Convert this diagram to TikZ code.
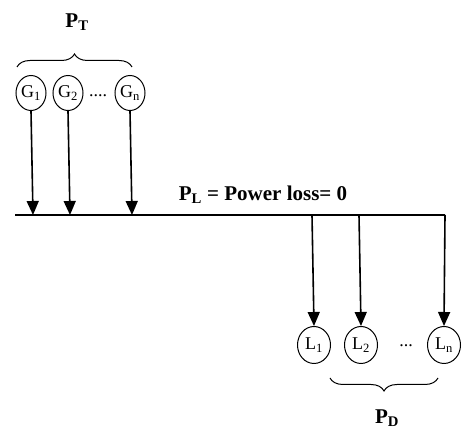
\documentclass[tikz,border=0pt]{standalone}
\usepackage{fontspec}
\setmainfont{Liberation Serif}
\usetikzlibrary{shapes.geometric,arrows.meta,decorations.pathreplacing}
\begin{document}
\begin{tikzpicture}[x=1pt,y=1pt,
  src/.style={draw,ellipse,line width=1pt,minimum width=30pt,minimum height=35pt,inner sep=0pt,font=\fontsize{18}{18}\selectfont},
  ld/.style={draw,ellipse,line width=1pt,minimum width=33pt,minimum height=37pt,inner sep=0pt,font=\fontsize{18}{18}\selectfont},
  flow/.style={line width=1.6pt,-{Triangle[width=12pt,length=14pt]}},
  lbl/.style={font=\fontsize{21}{21}\selectfont\bfseries},
  brc/.style={line width=1pt,decorate,decoration={brace,amplitude=13pt}}]
\useasboundingbox (0,0) rectangle (466,430);
% generators
\node[src] (G1) at (31,337) {G\textsubscript{1}};
\node[src] (G2) at (68,337) {G\textsubscript{2}};
\node[src] (Gn) at (130,337) {G\textsubscript{n}};
\node[font=\fontsize{18}{18}\selectfont] (gdots) at (98,334) {....};
% brace PT
\coordinate (bt1) at (17,363);
\coordinate (bt2) at (132,363);
\draw[brc] (bt1) -- (bt2);
\node[lbl] (PT) at (77,408) {P\textsubscript{T}};
% bus
\coordinate (busL) at (15,215);
\coordinate (busR) at (445,215);
\coordinate (b1) at (33,215);
\coordinate (b2) at (70,215);
\coordinate (bn) at (132,215);
\coordinate (c1) at (312,215);
\coordinate (c2) at (359,215);
\draw[line width=1.3pt] (busL) -- (busR);
\draw[flow] (G1.south) -- (b1);
\draw[flow] (G2.south) -- (b2);
\draw[flow] (Gn.south) -- (bn);
\node[lbl] (PL) at (263,235) {P\textsubscript{L} = Power loss= 0};
% loads
\node[ld] (L1) at (314,85) {L\textsubscript{1}};
\node[ld] (L2) at (361,85) {L\textsubscript{2}};
\node[ld] (Ln) at (444,85) {L\textsubscript{n}};
\node[font=\fontsize{18}{18}\selectfont] (ldots) at (406,84) {...};
\draw[flow] (c1) -- (L1.north);
\draw[flow] (c2) -- (L2.north);
\draw[flow] (busR) -- (Ln.north);
% brace PD
\coordinate (bd1) at (330,52);
\coordinate (bd2) at (438,52);
\draw[brc] (bd2) -- (bd1);
\node[lbl] (PD) at (387,12) {P\textsubscript{D}};
\end{tikzpicture}
\end{document}
